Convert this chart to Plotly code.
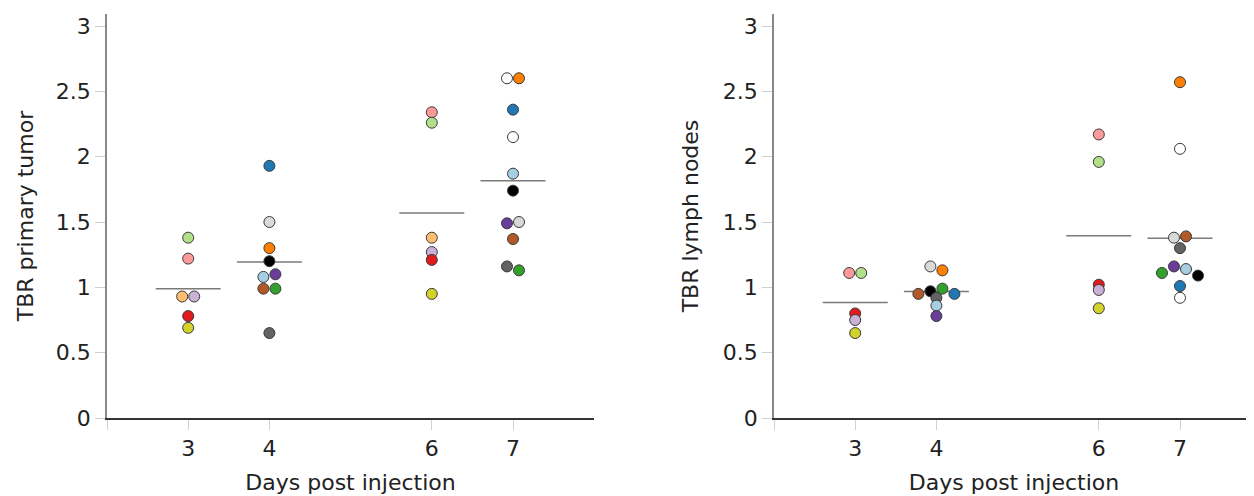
import numpy as np
import plotly.graph_objects as go

# ---------------- data ----------------
day_ticks = [3, 4, 6, 7]
tick_labels = ["3", "4", "6", "7"]

# Panel 1: TBR primary tumor
tumor_day = [3, 3, 3, 3, 3, 3,
             4, 4, 4, 4, 4, 4, 4, 4, 4,
             6, 6, 6, 6, 6, 6,
             7, 7, 7, 7, 7, 7, 7, 7, 7, 7, 7]
tumor_value = [1.38, 1.22, 0.93, 0.93, 0.78, 0.69,
               1.93, 1.50, 1.30, 1.20, 1.08, 1.10, 0.99, 0.99, 0.65,
               2.34, 2.26, 1.38, 1.27, 1.21, 0.95,
               2.60, 2.60, 2.36, 2.15, 1.87, 1.74, 1.49, 1.50, 1.37, 1.16, 1.13]
tumor_subject = ["lgreen", "pink", "lorange", "lpurple", "red", "yellow",
                 "blue", "lgray", "orange", "black", "lblue", "purple", "brown", "green", "dgray",
                 "pink", "lgreen", "lorange", "lpurple", "red", "yellow",
                 "white", "orange", "blue", "white", "lblue", "black", "purple", "lgray", "brown", "dgray", "green"]
# beeswarm slot (multiples of one marker half-step) to avoid overlap
tumor_slot = [0, 0, -1, 1, 0, 0,
              0, 0, 0, 0, -1, 1, -1, 1, 0,
              0, 0, 0, 0, 0, 0,
              -1, 1, 0, 0, 0, 0, -1, 1, 0, -1, 1]

# Panel 2: TBR lymph nodes
lymph_day = [3, 3, 3, 3, 3,
             4, 4, 4, 4, 4, 4, 4, 4, 4,
             6, 6, 6, 6, 6,
             7, 7, 7, 7, 7, 7, 7, 7, 7, 7, 7]
lymph_value = [1.11, 1.11, 0.80, 0.75, 0.65,
               1.16, 1.13, 0.99, 0.97, 0.95, 0.95, 0.92, 0.86, 0.78,
               2.17, 1.96, 1.02, 0.98, 0.84,
               2.57, 2.06, 1.39, 1.38, 1.30, 1.16, 1.14, 1.11, 1.09, 1.01, 0.92]
lymph_subject = ["pink", "lgreen", "red", "lpurple", "yellow",
                 "lgray", "orange", "green", "black", "brown", "blue", "dgray", "lblue", "purple",
                 "pink", "lgreen", "red", "lpurple", "yellow",
                 "orange", "white", "brown", "lgray", "dgray", "purple", "lblue", "green", "black", "blue", "white"]
lymph_slot = [-1, 1, 0, 0, 0,
              -1, 1, 1, -1, -3, 3, 0, 0, 0,
              0, 0, 0, 0, 0,
              0, 0, 1, -1, 0, -1, 1, -3, 3, 0, 0]

# ---------------- style ----------------
subject_colors = {
    "lblue": "#a6cee3", "blue": "#1f78b4", "lgreen": "#b2df8a", "green": "#33a02c",
    "pink": "#fb9a99", "red": "#e31a1c", "lorange": "#fdbf6f", "orange": "#ff7f00",
    "lpurple": "#cab2d6", "purple": "#6a3d9a", "yellow": "#d2d22a", "brown": "#b15928",
    "black": "#000000", "white": "#ffffff", "lgray": "#d9d9d9", "dgray": "#636363",
}
SLOT_STEP = 0.074      # days per half-marker step
MEAN_HALF = 0.40       # half-width of mean line in days
FONT = "DejaVu Sans"
TXT = "#222222"

fig = go.Figure()


def add_panel(days, values, subjects, slots, xa, ya):
    days = np.array(days)
    values = np.array(values)
    for d in day_ticks:
        m = values[days == d].mean()
        fig.add_trace(go.Scatter(
            x=[d - MEAN_HALF, d + MEAN_HALF], y=[m, m], mode="lines",
            line=dict(color="#7a7a7a", width=1.5), xaxis=xa, yaxis=ya,
            showlegend=False, hoverinfo="skip"))
    xs = days + np.array(slots) * SLOT_STEP
    fig.add_trace(go.Scatter(
        x=xs, y=values, mode="markers", xaxis=xa, yaxis=ya, showlegend=False,
        marker=dict(size=11, color=[subject_colors[s] for s in subjects],
                    line=dict(color="#3a3a3a", width=1))))


add_panel(tumor_day, tumor_value, tumor_subject, tumor_slot, "x", "y")
add_panel(lymph_day, lymph_value, lymph_subject, lymph_slot, "x2", "y2")

xcommon = dict(
    tickvals=[2] + day_ticks, ticktext=[""] + tick_labels,
    showline=True, linecolor="#333333", linewidth=1.5,
    ticks="outside", ticklen=10, tickcolor="#d0d0d0", tickwidth=1,
    showgrid=False, zeroline=False,
    tickfont=dict(family=FONT, size=22, color=TXT),
    title=dict(text="Days post injection", font=dict(family=FONT, size=22, color=TXT), standoff=14),
)
ycommon = dict(
    range=[0, 3.092], tickvals=[0, 0.5, 1, 1.5, 2, 2.5, 3],
    ticktext=["0", "0.5", "1", "1.5", "2", "2.5", "3"],
    showline=True, linecolor="#888888", linewidth=1.5,
    ticks="outside", ticklen=10, tickcolor="#d0d0d0", tickwidth=1,
    showgrid=False, zeroline=False,
    tickfont=dict(family=FONT, size=22, color=TXT),
)

# page body has an 8px margin, so the figure is drawn offset by (8, 8)
W, H = 1246, 488
L, T, B = 99, 6, 78
plot_w = W - L
left_w = 487
right_start = 766 - L
fig.update_layout(
    width=W, height=H,
    margin=dict(l=L, r=0, t=T, b=B),
    paper_bgcolor="white", plot_bgcolor="white",
    font=dict(family=FONT),
    xaxis=dict(xcommon, domain=[0, left_w / plot_w], range=[2, 2 + left_w / 81.2]),
    xaxis2=dict(xcommon, domain=[right_start / plot_w, 1],
                range=[2, 2 + (plot_w - right_start) / 81.2], anchor="y2"),
    yaxis=dict(ycommon, title=dict(text="TBR primary tumor", font=dict(family=FONT, size=22, color=TXT), standoff=16)),
    yaxis2=dict(ycommon, anchor="x2", title=dict(text="TBR lymph nodes", font=dict(family=FONT, size=22, color=TXT), standoff=18)),
)

fig.write_html("out.html")
